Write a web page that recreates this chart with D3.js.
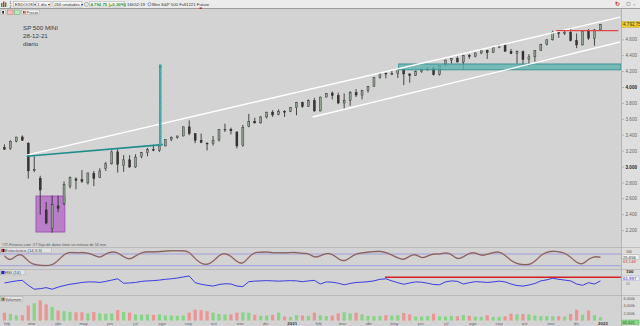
<!DOCTYPE html>
<html>
<head>
<meta charset="utf-8">
<script src="https://cdn.jsdelivr.net/npm/d3@7"></script>
<style>
  html, body { margin: 0; padding: 0; background: #d3d3d3; }
  svg { display: block; font-family: "Liberation Sans", Arial, sans-serif; }
</style>
</head>
<body>
<div id="chart"></div>
<script>
// weekly bars, Monday of each week (Jan 2020 - Dec 2021)
const weekStart = new Date(2020, 0, 27);
const weekEnd = new Date(2021, 11, 28);
const monthNames = ['ene', 'feb', 'mar', 'abr', 'may', 'jun', 'jul', 'ago', 'sep', 'oct', 'nov', 'dic'];
const priceTicks = [2200, 2400, 2600, 2800, 3000, 3200, 3400, 3600, 3800, 4000, 4200, 4400, 4600];
const boldTicks = [3000, 4000];
const volumeTicks = [2000, 4000, 6000];

const open = [
  3245, 3230, 3322, 3378, 3300, 2960, 2860, 2460, 2230, 2510, 2540, 2760, 2850, 2840, 2800, 2920, 2870,
  2980, 3040, 3190, 3020, 3090, 3000, 3130, 3180, 3220, 3210, 3265, 3345, 3370, 3390, 3505, 3420, 3335,
  3300, 3295, 3340, 3470, 3475, 3440, 3275, 3510, 3575, 3555, 3630, 3690, 3660, 3700, 3700,
  3745, 3815, 3760, 3835, 3705, 3880, 3930, 3900, 3805, 3840, 3935, 3905, 3965, 4015, 4125, 4180, 4175,
  4175, 4228, 4170, 4150, 4200, 4225, 4245, 4160, 4275, 4345, 4365, 4320, 4405, 4390, 4435, 4465, 4440,
  4505, 4530, 4455, 4425, 4450, 4350, 4385, 4465, 4540, 4600, 4695, 4680, 4695, 4590, 4535, 4710, 4620, 4725
];
const high = [
  3285, 3337, 3380, 3397, 3310, 3134, 2890, 2560, 2640, 2640, 2820, 2880, 2870, 2960, 2930, 2950, 2985,
  3065, 3210, 3225, 3150, 3150, 3160, 3190, 3240, 3280, 3265, 3345, 3385, 3395, 3510, 3587, 3425, 3420,
  3310, 3390, 3475, 3545, 3495, 3450, 3530, 3668, 3620, 3640, 3695, 3715, 3725, 3715, 3750,
  3820, 3820, 3850, 3870, 3885, 3930, 3950, 3935, 3925, 3955, 3980, 3970, 4020, 4130, 4185, 4190, 4215,
  4235, 4235, 4180, 4215, 4235, 4250, 4255, 4280, 4350, 4370, 4390, 4410, 4420, 4440, 4465, 4475, 4510,
  4545, 4545, 4485, 4465, 4465, 4420, 4470, 4550, 4605, 4715, 4712, 4715, 4745, 4680, 4715, 4735, 4735, 4800
];
const low = [
  3215, 3215, 3310, 3328, 2855, 2935, 2400, 2280, 2174, 2430, 2520, 2730, 2720, 2800, 2780, 2760, 2860,
  2950, 3030, 2930, 2940, 2990, 2990, 3110, 3135, 3200, 3190, 3260, 3325, 3355, 3385, 3400, 3300, 3300,
  3209, 3270, 3320, 3440, 3410, 3233, 3255, 3500, 3545, 3545, 3610, 3630, 3650, 3630, 3690,
  3650, 3745, 3755, 3694, 3700, 3875, 3850, 3790, 3723, 3770, 3880, 3850, 3935, 4010, 4110, 4115, 4155,
  4120, 4030, 4060, 4145, 4185, 4210, 4150, 4150, 4270, 4300, 4320, 4225, 4360, 4380, 4420, 4360, 4435,
  4495, 4455, 4420, 4300, 4280, 4260, 4325, 4460, 4530, 4590, 4625, 4660, 4580, 4495, 4530, 4600, 4525, 4720
];
const close = [
  3224, 3324, 3377, 3337, 2951, 2971, 2711, 2295, 2525, 2480, 2780, 2868, 2832, 2820, 2925, 2855, 2950,
  3040, 3190, 3035, 3090, 3000, 3125, 3180, 3220, 3210, 3265, 3345, 3370, 3390, 3505, 3420, 3335, 3310,
  3290, 3335, 3470, 3475, 3455, 3265, 3500, 3575, 3555, 3630, 3690, 3655, 3700, 3695, 3745,
  3815, 3760, 3835, 3705, 3880, 3925, 3900, 3805, 3835, 3935, 3905, 3965, 4015, 4125, 4180, 4175, 4175,
  4228, 4170, 4150, 4200, 4225, 4245, 4160, 4275, 4345, 4365, 4320, 4405, 4390, 4435, 4465, 4440, 4505,
  4530, 4455, 4425, 4450, 4350, 4385, 4465, 4540, 4600, 4695, 4680, 4695, 4590, 4535, 4710, 4620, 4725, 4792.75
];
// average daily volume per week, thousands
const volume = [
  2200, 1800, 1400, 1500, 4200, 4800, 5600, 4500, 3800, 2800, 2600, 2400, 2300, 2300, 2000, 2400, 2000,
  1900, 2000, 2900, 2400, 2200, 1700, 1600, 1700, 1600, 1700, 1400, 1400, 1300, 1400, 2200, 3000, 2900,
  2600, 2200, 1800, 1700, 1700, 2200, 2300, 2200, 1600, 1300, 1400, 1600, 2200, 1100, 1000,
  1500, 1400, 1300, 2200, 1500, 1200, 1400, 2000, 2300, 2000, 2200, 1700, 1300, 1200, 1200, 1500, 1300,
  1500, 2100, 1700, 1100, 1100, 1200, 1900, 1200, 1100, 1300, 1200, 1500, 1300, 1100, 1000, 1500, 1000,
  1000, 1200, 1900, 1700, 1800, 1700, 1400, 1200, 1200, 1200, 1200, 1100, 1800, 3000, 1600, 2800, 1500, 900
];
const stoch = [
  70, 42, 75, 80, 40, 25, 22, 20, 22, 45, 80, 90, 85, 88, 85, 75, 58, 82, 92, 88, 65, 50, 70, 88, 92,
  90, 92, 95, 97, 96, 97, 92, 55, 30, 24, 40, 75, 85, 70, 40, 26, 65, 90, 88, 92, 85, 87, 85, 88,
  88, 82, 85, 60, 70, 85, 80, 55, 40, 62, 82, 85, 90, 92, 95, 88, 75, 60, 48, 70, 82, 55, 70, 82, 78,
  88, 80, 50, 65, 85, 88, 70, 78, 88, 92, 75, 45, 30, 25, 24, 40, 75, 90, 95, 92, 85, 65, 35, 24, 55, 68, 63
];
const rsi = [
  54, 58, 62, 64, 45, 30, 32, 36, 30, 38, 44, 49, 52, 56, 58, 58, 56, 60, 65, 70, 53, 54, 56, 60, 62,
  63, 65, 68, 70, 73, 77, 81, 55, 49, 45, 42, 48, 51, 50, 42, 40, 59, 61, 62, 63, 62, 61, 62, 63,
  62, 59, 62, 64, 50, 58, 57, 53, 47, 52, 56, 57, 59, 62, 68, 70, 62, 55, 49, 54, 58, 57, 53, 48, 47,
  58, 62, 60, 50, 55, 59, 58, 56, 58, 61, 58, 50, 44, 42, 46, 52, 62, 66, 72, 68, 65, 62, 50, 45, 55, 50, 62
];

// drawn annotations: [date, price]
const channelUpper = [['2020-02-24', 3150], ['2022-01-21', 4885]];
const channelLower = [['2021-01-25', 3629], ['2022-01-21', 4572]];
const neckline = [['2020-02-24', 3135], ['2020-08-02', 3282]];
const targetMove = [['2020-07-30', 3282], ['2020-07-30', 4290]];
const supportBand = { from: '2021-05-06', to: '2022-01-22', low: 4222, high: 4296 };
const resistance = { from: '2021-11-07', to: '2022-01-19', price: 4716 };
const crashBox = { from: '2020-03-06', to: '2020-04-09', low: 2182, high: 2635 };
const rsiResistance = { from: '2021-04-20', to: '2022-01-22', value: 76 };

const lastPrice = 4792.75;
const stochLabels = ['25,656', '63,148'];
const rsiLabel = '61,997';
const volumeLabel = '65.625';

const W = 640, H = 326;
const plotRight = 621;
const parse = d3.timeParse('%Y-%m-%d');
const es = d3.formatLocale({ decimal: ',', thousands: '.', grouping: [3], currency: ['', ''] });
const fmtTick = es.format(',.0f');
const fmtLast = es.format(',.2f');

const weeks = d3.timeMonday.range(weekStart, weekEnd);
const bars = weeks.map((d, i) => ({
  date: d3.timeDay.offset(d, 2),
  o: open[i], h: high[i], l: low[i], c: close[i],
  v: volume[i], k: stoch[i], r: rsi[i]
}));

let x = d3.scaleTime()
  .domain([new Date(2020, 1, 1), new Date(2022, 0, 1)])
  .range([7, 603]);
let y = d3.scaleLinear().domain([2000, 5000]).range([246.5, 8]);
let yStoch = d3.scaleLinear().domain([0, 100]).range([269.6, 250.1]);
let yRsi = d3.scaleLinear().domain([0, 100]).range([297, 271]);
let yVol = d3.scaleLinear().domain([0, 6000]).range([320.5, 299]);

let svg = d3.select('#chart')
  .append('svg')
  .attr('width', W)
  .attr('height', H);

svg.append('rect').attr('width', W).attr('height', H).attr('fill', '#d3d3d3');

// right axis strip
svg.append('rect')
  .attr('x', plotRight).attr('y', 9)
  .attr('width', W - plotRight).attr('height', H - 9)
  .attr('fill', '#dedede');
svg.append('line')
  .attr('x1', plotRight + 0.5).attr('x2', plotRight + 0.5)
  .attr('y1', 9).attr('y2', H)
  .attr('stroke', '#b4b4b4');

// toolbar
svg.append('rect').attr('width', W).attr('height', 8.5).attr('fill', '#ebebeb');
svg.append('line').attr('x1', 0).attr('x2', W).attr('y1', 8.5).attr('y2', 8.5).attr('stroke', '#9c9c9c');

let tb = svg.append('g').style('font-size', '4.3px').attr('fill', '#333');
tb.append('rect').attr('x', 1).attr('y', 3).attr('width', 1.5).attr('height', 4).attr('fill', '#3a9a3a');
tb.append('rect').attr('x', 3).attr('y', 1.5).attr('width', 1.5).attr('height', 5.5).attr('fill', '#d03030');
tb.append('rect').attr('x', 5).attr('y', 2.5).attr('width', 1.5).attr('height', 4.5).attr('fill', '#3a9a3a');
tb.append('text').attr('x', 9.5).attr('y', 4).style('font-size', '3.5px').text('1');
tb.append('text').attr('x', 9.5).attr('y', 7.5).style('font-size', '3.5px').text('2');

let boxes = [
  { x: 13.5, w: 20, t: 'ESDOO8 ▾' },
  { x: 36, w: 15, t: '1 día ▾' },
  { x: 53, w: 29, t: '266 unidades ▾' }
];
boxes.forEach(function(b) {
  tb.append('rect').attr('x', b.x).attr('y', 1.5).attr('width', b.w).attr('height', 5.5)
    .attr('fill', '#f6f6f6').attr('stroke', '#a8a8a8').attr('stroke-width', 0.5);
  tb.append('text').attr('x', b.x + 1.2).attr('y', 5.8).text(b.t);
});
tb.append('circle').attr('cx', 86.5).attr('cy', 4.3).attr('r', 2).attr('fill', 'none').attr('stroke', '#777').attr('stroke-width', 0.5);
tb.append('rect').attr('x', 89.5).attr('y', 1.5).attr('width', 35).attr('height', 5.5)
  .attr('fill', '#f6f6f6').attr('stroke', '#a8a8a8').attr('stroke-width', 0.5);
tb.append('text').attr('x', 90.5).attr('y', 5.8).attr('fill', '#1f8a1f').style('font-weight', 'bold')
  .text(fmtLast(lastPrice) + ' (+0,30%)');
tb.append('text').attr('x', 127).attr('y', 5.8).text('16h52:19');
tb.append('circle').attr('cx', 149.5).attr('cy', 4.3).attr('r', 1.6).attr('fill', 'none').attr('stroke', '#4a6ab0').attr('stroke-width', 0.6);
tb.append('text').attr('x', 152).attr('y', 5.8).text('Mini S&P 500 Full1221 Future');
tb.append('rect').attr('x', 199.5).attr('y', 7.5).attr('width', 2.5).attr('height', 1.5).attr('fill', '#e02020');

// window buttons
tb.append('text').attr('x', 614.5).attr('y', 6.2).attr('fill', '#d03030').style('font-size', '6px').style('font-weight', 'bold').text('↻');
tb.append('text').attr('x', 622).attr('y', 6).attr('fill', '#888').text('_');
tb.append('rect').attr('x', 627).attr('y', 2.5).attr('width', 3).attr('height', 3).attr('fill', 'none').attr('stroke', '#888').attr('stroke-width', 0.5);
tb.append('text').attr('x', 633).attr('y', 6).attr('fill', '#888').text('×');

// second row buttons
let row2 = svg.append('g').style('font-size', '4px');
row2.append('rect').attr('x', 1).attr('y', 10).attr('width', 4.5).attr('height', 4.5).attr('fill', '#f4f4f4').attr('stroke', '#999').attr('stroke-width', 0.4);
row2.append('rect').attr('x', 2.3).attr('y', 11).attr('width', 1.6).attr('height', 2.6).attr('fill', '#111');
row2.append('rect').attr('x', 7.5).attr('y', 10).attr('width', 5.5).attr('height', 4.5).attr('fill', '#f2c0c0').attr('stroke', '#c05050').attr('stroke-width', 0.4);
row2.append('rect').attr('x', 14.5).attr('y', 10).attr('width', 5.5).attr('height', 4.5).attr('fill', '#bfe8bf').attr('stroke', '#50a050').attr('stroke-width', 0.4);
row2.append('rect').attr('x', 22).attr('y', 10).attr('width', 17).attr('height', 4.5).attr('fill', '#f4f4f4').attr('stroke', '#999').attr('stroke-width', 0.4);
row2.append('rect').attr('x', 23).attr('y', 11).attr('width', 1.2).attr('height', 2.6).attr('fill', '#2a8a2a');
row2.append('rect').attr('x', 24.4).attr('y', 11).attr('width', 1.2).attr('height', 2.6).attr('fill', '#d03030');
row2.append('text').attr('x', 26.5).attr('y', 13.6).attr('fill', '#333').text('Precio');

// title
let title = svg.append('g').style('font-size', '6.2px').attr('fill', '#3a3a3a');
['SP 500 MINI', '28-12-21', 'diario'].forEach(function(t, i) {
  title.append('text').attr('x', 23).attr('y', 29.5 + i * 8).text(t);
});

// price panel
svg.append('clipPath').attr('id', 'plotclip')
  .append('rect').attr('x', 0).attr('y', 16).attr('width', plotRight).attr('height', 231);
let price = svg.append('g').attr('clip-path', 'url(#plotclip)');

price.append('rect')
  .attr('x', x(parse(crashBox.from)))
  .attr('y', y(crashBox.high))
  .attr('width', x(parse(crashBox.to)) - x(parse(crashBox.from)))
  .attr('height', y(crashBox.low) - y(crashBox.high))
  .attr('fill', '#b46ec4').attr('fill-opacity', 0.85)
  .attr('stroke', '#9a4aae').attr('stroke-width', 0.8);

// candles
let candle = price.selectAll('g.candle')
  .data(bars)
  .enter()
  .append('g')
  .attr('class', 'candle');
candle.append('line')
  .attr('x1', d => x(d.date)).attr('x2', d => x(d.date))
  .attr('y1', d => y(d.h)).attr('y2', d => y(d.l))
  .attr('stroke', '#222').attr('stroke-width', 0.8);
candle.append('rect')
  .attr('x', d => x(d.date) - 1)
  .attr('y', d => y(Math.max(d.o, d.c)))
  .attr('width', 2)
  .attr('height', d => Math.max(0.8, Math.abs(y(d.o) - y(d.c))))
  .attr('fill', d => d.c >= d.o ? '#8fa38f' : '#3a3333')
  .attr('stroke', '#222').attr('stroke-width', 0.4);

// support band
price.append('rect')
  .attr('x', x(parse(supportBand.from)))
  .attr('y', y(supportBand.high))
  .attr('width', x(parse(supportBand.to)) - x(parse(supportBand.from)))
  .attr('height', y(supportBand.low) - y(supportBand.high))
  .attr('fill', '#5fb4b2').attr('fill-opacity', 0.8)
  .attr('stroke', '#2b8b8a').attr('stroke-width', 0.8);

let trend = d3.line()
  .x(d => x(parse(d[0])))
  .y(d => y(d[1]));

[channelUpper, channelLower].forEach(function(l) {
  price.append('path').attr('d', trend(l))
    .attr('fill', 'none').attr('stroke', '#ffffff').attr('stroke-width', 1.4);
});

price.append('path').attr('d', trend(neckline))
  .attr('fill', 'none').attr('stroke', '#1f8d8c').attr('stroke-width', 1.6);

// projected move
price.append('path').attr('d', trend(targetMove))
  .attr('fill', 'none').attr('stroke', '#2f9d9c').attr('stroke-width', 2.4);
price.append('path').attr('d', trend(targetMove))
  .attr('fill', 'none').attr('stroke', '#a8dede').attr('stroke-width', 0.6)
  .attr('stroke-dasharray', '1,1.2');
let tx = x(parse(targetMove[1][0])), ty = y(targetMove[1][1]);
price.append('path')
  .attr('d', 'M' + (tx - 1.8) + ',' + (ty + 3) + 'L' + tx + ',' + ty + 'L' + (tx + 1.8) + ',' + (ty + 3) + 'Z')
  .attr('fill', '#2f9d9c');

price.append('line')
  .attr('x1', x(parse(resistance.from))).attr('x2', x(parse(resistance.to)))
  .attr('y1', y(resistance.price)).attr('y2', y(resistance.price))
  .attr('stroke', '#e04848').attr('stroke-width', 1.3);

// price axis
let axisG = svg.append('g').style('font-size', '4.6px').attr('fill', '#555');
priceTicks.forEach(function(v) {
  axisG.append('line').attr('x1', plotRight + 1).attr('x2', plotRight + 3)
    .attr('y1', y(v)).attr('y2', y(v)).attr('stroke', '#888').attr('stroke-width', 0.5);
  axisG.append('text').attr('x', plotRight + 4.5).attr('y', y(v)).attr('dy', '0.35em')
    .style('font-weight', boldTicks.includes(v) ? 'bold' : 'normal')
    .attr('fill', boldTicks.includes(v) ? '#222' : '#666')
    .text(fmtTick(v));
});
axisG.append('rect').attr('x', plotRight + 1).attr('y', y(lastPrice) - 2.8)
  .attr('width', 17).attr('height', 5.6)
  .attr('fill', '#f0d02a').attr('stroke', '#b89a10').attr('stroke-width', 0.4);
axisG.append('text').attr('x', plotRight + 2).attr('y', y(lastPrice)).attr('dy', '0.35em')
  .attr('fill', '#333').text(fmtLast(lastPrice));

// copyright
svg.append('text').attr('x', 2).attr('y', 246).style('font-size', '3.8px').attr('fill', '#555')
  .text('©IT-Finance.com :27 flujo de datos tiene un retraso de 10 min');

// panel separators
[247.5, 269.5, 295.5].forEach(function(sy) {
  svg.append('line').attr('x1', 0).attr('x2', W).attr('y1', sy).attr('y2', sy)
    .attr('stroke', '#a9a9a9').attr('stroke-width', 0.6);
});

function panelLabel(yy, colors, label) {
  let g = svg.append('g').style('font-size', '4.2px');
  let w = label.length * 2.2 + 7;
  g.append('rect').attr('x', 0.5).attr('y', yy - 2.6).attr('width', w).attr('height', 5)
    .attr('fill', '#e3e3e3').attr('stroke', '#a0a0a0').attr('stroke-width', 0.4);
  colors.forEach(function(c, i) {
    g.append('rect').attr('x', 1.3 + i * 1.6).attr('y', yy - 1.6).attr('width', 1.6).attr('height', 3.2).attr('fill', c);
  });
  g.append('text').attr('x', 5).attr('y', yy).attr('dy', '0.35em').attr('fill', '#444').text(label);
}

// stochastic
[80, 20].forEach(function(v) {
  svg.append('line').attr('x1', 0).attr('x2', plotRight).attr('y1', yStoch(v)).attr('y2', yStoch(v))
    .attr('stroke', '#8a8ae0').attr('stroke-width', 0.7);
});
svg.append('path').datum(bars)
  .attr('d', d3.line().x(d => x(d.date)).y(d => yStoch(d.k)).curve(d3.curveBasis))
  .attr('fill', 'none').attr('stroke', '#c09090').attr('stroke-width', 1.6);
svg.append('path').datum(bars)
  .attr('d', d3.line().x(d => x(d.date)).y(d => yStoch(d.k)).curve(d3.curveBasis))
  .attr('fill', 'none').attr('stroke', '#5a4a4a').attr('stroke-width', 0.7);
panelLabel(250.5, ['#d02020', '#111'], 'Estocástico (14;3;3)');

let sl = svg.append('g').style('font-size', '4.2px');
sl.append('text').attr('x', plotRight + 5).attr('y', 252.5).attr('fill', '#444').style('font-size', '3.4px').text('100');
sl.append('rect').attr('x', plotRight + 1).attr('y', 254.8).attr('width', 17).attr('height', 4.6)
  .attr('fill', '#f2f2f2').attr('stroke', '#999').attr('stroke-width', 0.4);
sl.append('text').attr('x', plotRight + 2).attr('y', 257.1).attr('dy', '0.35em').attr('fill', '#333').text(stochLabels[0]);
sl.append('text').attr('x', plotRight + 2).attr('y', 261.3).attr('dy', '0.35em').attr('fill', '#d04040').text(stochLabels[1]);

// rsi
svg.append('line')
  .attr('x1', x(parse(rsiResistance.from))).attr('x2', x(parse(rsiResistance.to)))
  .attr('y1', yRsi(rsiResistance.value)).attr('y2', yRsi(rsiResistance.value))
  .attr('stroke', '#d42020').attr('stroke-width', 1.3);
svg.append('path').datum(bars)
  .attr('d', d3.line().x(d => x(d.date)).y(d => yRsi(d.r)))
  .attr('fill', 'none').attr('stroke', '#2a2ae0').attr('stroke-width', 0.9);
panelLabel(272.5, ['#1a1ad0', '#1a1ad0'], 'RSI (14)');

let rl = svg.append('g').style('font-size', '4.4px');
rl.append('text').attr('x', plotRight + 5).attr('y', yRsi(100)).attr('dy', '0.35em').attr('fill', '#222').style('font-weight', 'bold').text('100');
rl.append('rect').attr('x', plotRight + 1).attr('y', 276).attr('width', 17).attr('height', 4.6)
  .attr('fill', '#f2f2f2').attr('stroke', '#9a9ad0').attr('stroke-width', 0.4);
rl.append('text').attr('x', plotRight + 2).attr('y', 278.3).attr('dy', '0.35em').attr('fill', '#3030c0').text(rsiLabel);
rl.append('text').attr('x', plotRight + 5).attr('y', yRsi(50)).attr('dy', '0.35em').attr('fill', '#777').style('font-size', '3.4px').text('50');

// volume
svg.selectAll('rect.vol')
  .data(bars)
  .enter()
  .append('rect')
  .attr('class', 'vol')
  .attr('x', d => x(d.date) - 1.6)
  .attr('y', d => yVol(d.v))
  .attr('width', 3.2)
  .attr('height', d => yVol(0) - yVol(d.v))
  .attr('fill', d => d.c >= d.o ? '#86d486' : '#ec9494');
panelLabel(299.2, ['#3aaa3a', '#d03030'], 'Volumen');

let vl = svg.append('g').style('font-size', '3.8px').attr('fill', '#555');
volumeTicks.forEach(function(v) {
  vl.append('text').attr('x', plotRight + 2.5).attr('y', yVol(v)).attr('dy', '0.35em').text(es.format(',.3f')(v / 1000) + 'k');
});
vl.append('rect').attr('x', plotRight + 1).attr('y', 320).attr('width', 17).attr('height', 4.6)
  .attr('fill', '#8fd68f').attr('stroke', '#5aa85a').attr('stroke-width', 0.4);
vl.append('text').attr('x', plotRight + 2).attr('y', 322.3).attr('dy', '0.35em').attr('fill', '#1a5a1a').text(volumeLabel);

// time axis
let months = d3.timeMonth.range(new Date(2020, 1, 1), new Date(2022, 0, 2));
let xa = svg.append('g').style('font-size', '4.4px').attr('fill', '#555').attr('text-anchor', 'middle');
months.forEach(function(m) {
  let isYear = m.getMonth() === 0;
  xa.append('text')
    .attr('x', x(m)).attr('y', 324).attr('dy', '0.3em')
    .style('font-weight', isYear ? 'bold' : 'normal')
    .attr('fill', isYear ? '#333' : '#666')
    .text(isYear ? m.getFullYear() : monthNames[m.getMonth()]);
});
</script>
</body>
</html>
